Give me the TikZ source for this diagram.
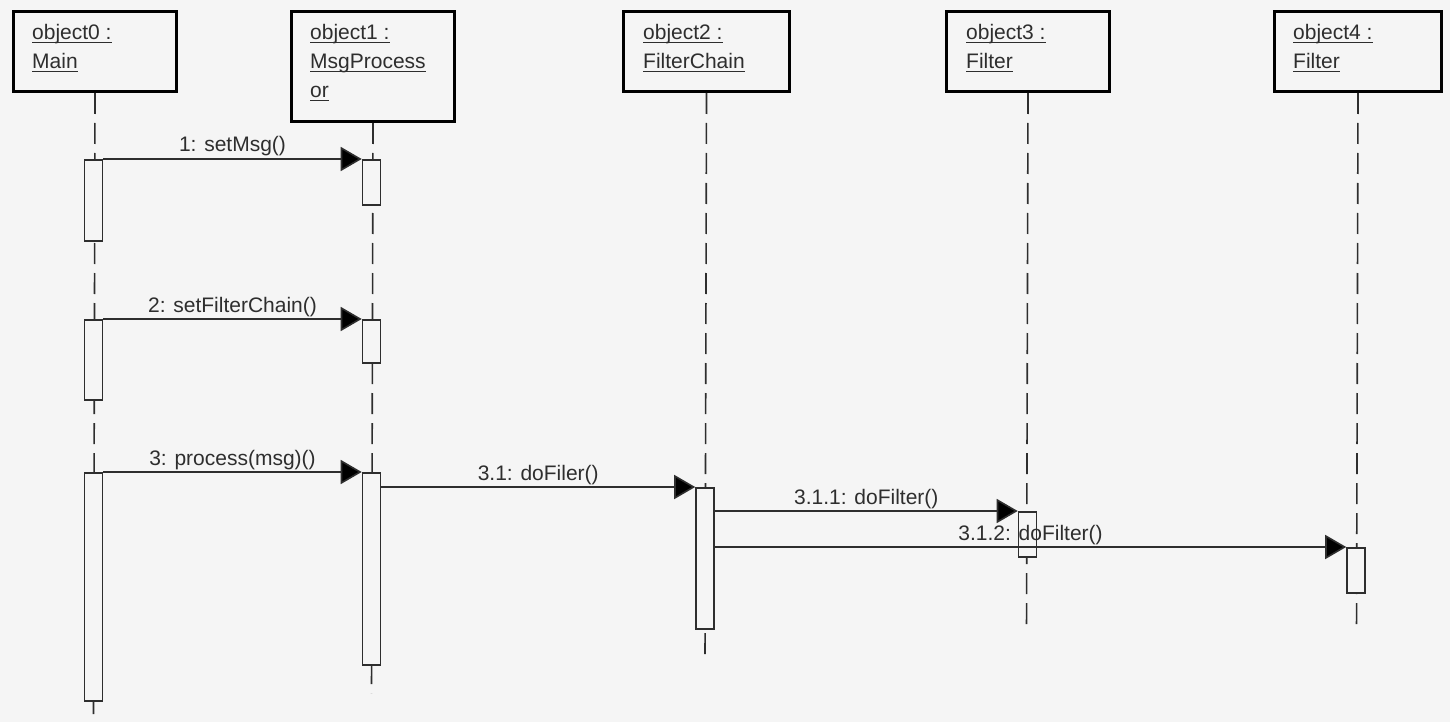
\documentclass[tikz,border=0pt]{standalone}
\usepackage{fontspec}
\setmainfont{Liberation Sans}
\usetikzlibrary{arrows.meta,calc}
\definecolor{bg}{HTML}{F5F5F5}
\definecolor{ink}{HTML}{2E2E2E}
\newcommand\ulx[1]{\setbox0\hbox{#1}\rlap{\rule[-3pt]{\wd0}{1.4pt}}\box0}
\tikzset{
  objbox/.style={draw=black, line width=3pt, fill=bg, minimum width=163pt, inner sep=0pt, anchor=north west},
  objtext/.style={text=ink, align=left, inner sep=0pt, anchor=base west, font=\fontsize{21}{29}\selectfont},
  lifeline/.style={draw=ink, line width=1.6pt, dash pattern=on 21pt off 9pt},
  actbar/.style={draw=ink, line width=1.6pt, fill=bg, minimum width=18pt, inner sep=0pt, anchor=north},
  msg/.style={draw=ink, line width=1.6pt, -{Triangle[length=21pt,width=24pt,fill=black]}},
  msglabel/.style={text=ink, inner sep=0pt, anchor=base, font=\fontsize{21}{25}\selectfont}
}
\begin{document}
\begin{tikzpicture}[x=1pt,y=-1pt]
\fill[bg] (0,0) rectangle (1450,722);
\useasboundingbox (0,0) rectangle (1450,722);

% object boxes
\node[objbox, minimum height=80pt] (o0) at (12,10) {};
\node[objbox, minimum height=110pt] (o1) at (290,10) {};
\node[objbox, minimum height=80pt, minimum width=166pt] (o2) at (622,10) {};
\node[objbox, minimum height=80pt] (o3) at (945,10) {};
\node[objbox, minimum height=80pt, minimum width=167pt] (o4) at (1273,10) {};

\node[objtext] (t0) at (32,69) {\ulx{object0 :}\\\ulx{Main}};
\node[objtext] (t1) at (310,98) {\ulx{object1 :}\\\ulx{MsgProcess}\\\ulx{or}};
\node[objtext] (t2) at (643,69) {\ulx{object2 :}\\\ulx{FilterChain}};
\node[objtext] (t3) at (966,69) {\ulx{object3 :}\\\ulx{Filter}};
\node[objtext] (t4) at (1293,69) {\ulx{object4 :}\\\ulx{Filter}};

% lifeline ends
\coordinate (e0) at (93.5,722);
\coordinate (e1) at (371.5,693);
\coordinate (e2) at (705,658);
\coordinate (e3) at (1026.5,632);
\coordinate (e4) at (1356.5,632);

\draw[lifeline] (o0.south) -- (e0);
\draw[lifeline] (o1.south) -- (e1);
\draw[lifeline] (o2.south) -- (e2);
\draw[lifeline] (o3.south) -- (e3);
\draw[lifeline] (o4.south) -- (e4);

% activation bars
\node[actbar, minimum height=81pt] (b01) at (93.5,159) {};
\node[actbar, minimum height=80pt] (b02) at (93.5,319) {};
\node[actbar, minimum height=228pt] (b03) at (93.5,472) {};
\node[actbar, minimum height=45pt] (b11) at (371.5,159) {};
\node[actbar, minimum height=43pt] (b12) at (371.5,319) {};
\node[actbar, minimum height=192pt] (b13) at (371.5,472) {};
\node[actbar, minimum height=141pt] (b2) at (705,487) {};
\node[actbar, minimum height=45pt] (b3) at (1027.5,511) {};
\node[actbar, minimum height=45pt] (b4) at (1356,547) {};

% messages
\draw[msg] (b01.north east) -- node[msglabel, above=7pt, anchor=base] (m1) {1: setMsg()} (b11.north west);
\draw[msg] (b02.north east) -- node[msglabel, above=7pt, anchor=base] (m2) {2: setFilterChain()} (b12.north west);
\draw[msg] (b03.north east) -- node[msglabel, above=7pt, anchor=base] (m3) {3: process(msg)()} (b13.north west);
\draw[msg] (b13.east |- b2.north west) -- node[msglabel, above=7pt, anchor=base] (m31) {3.1: doFiler()} (b2.north west);
\draw[msg] (b2.east |- b3.north west) -- node[msglabel, above=7pt, anchor=base] (m311) {3.1.1: doFilter()} (b3.north west);
\draw[msg] (b2.east |- b4.north west) -- node[msglabel, above=7pt, anchor=base] (m312) {3.1.2: doFilter()} (b4.north west);
\end{tikzpicture}
\end{document}
